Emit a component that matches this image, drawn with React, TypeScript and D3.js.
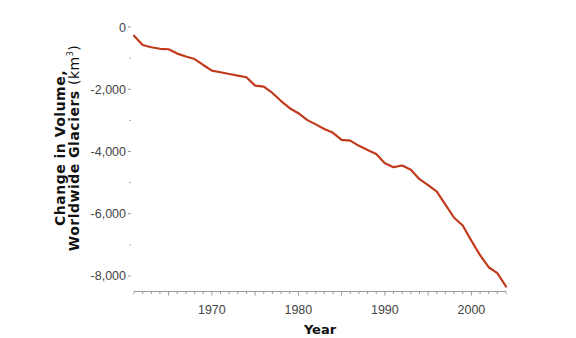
import React from 'react';
import * as d3 from 'd3';

// glacier volume change, km3
const years = [1961, 1962, 1963, 1964, 1965, 1966, 1967, 1968, 1969, 1970,
  1971, 1972, 1973, 1974, 1975, 1976, 1977, 1978, 1979, 1980,
  1981, 1982, 1983, 1984, 1985, 1986, 1987, 1988, 1989, 1990,
  1991, 1992, 1993, 1994, 1995, 1996, 1997, 1998, 1999, 2000,
  2001, 2002, 2003, 2004];
const volume = [-280, -580, -650, -700, -715, -855, -950, -1030, -1220, -1400,
  -1455, -1510, -1560, -1615, -1885, -1915, -2120, -2380, -2610, -2770,
  -2985, -3130, -3280, -3400, -3630, -3650, -3820, -3950, -4080, -4380,
  -4505, -4450, -4590, -4890, -5080, -5290, -5710, -6130, -6380, -6870,
  -7330, -7720, -7910, -8340];
const yTicks = [0, -2000, -4000, -6000, -8000];
const yMinorTicks = [-1000, -3000, -5000, -7000];
const xTicks = [1970, 1980, 1990, 2000];

const width = 576;
const height = 338;

const TimeLine = () => {
  const x = d3.scaleLinear().domain([1961, 2004]).range([134, 506]);
  const y = d3.scaleLinear().domain([0, -8500]).range([27, 291.5]);

  const data = years.map((yr, i) => ({ date: yr, value: volume[i] }));
  const line = d3.line<{ date: number; value: number }>()
    .x(d => x(d.date))
    .y(d => y(d.value));

  const fmt = d3.format(',');
  const allYears = d3.range(1961, 2005);
  const axisY = y.range()[1];

  return (
    <svg width={width} height={height} style={{ position: 'absolute', left: 0, top: 0, background: '#fff' }}>
      {/* x axis */}
      <line x1={x(1961)} x2={x(2004)} y1={axisY} y2={axisY} stroke="#9a9a9a" strokeWidth={1} />
      {allYears.map(yr => (
        <line key={yr} x1={x(yr)} x2={x(yr)} y1={axisY} y2={axisY + (yr % 5 === 0 ? 4 : 2.5)} stroke="#9a9a9a" strokeWidth={1} />
      ))}
      {xTicks.map(t => (
        <text key={t} x={x(t)} y={axisY + 22} textAnchor="middle" fontFamily="Liberation Sans" fontSize={12.5} fill="#444">{t}</text>
      ))}
      <text x={320} y={334} textAnchor="middle" fontFamily="DejaVu Sans" fontWeight="bold" fontSize={13} fill="#111">Year</text>

      {/* y axis */}
      {yTicks.map(t => (
        <g key={t}>
          <line x1={128} x2={131} y1={y(t)} y2={y(t)} stroke="#9a9a9a" />
          <text x={126} y={y(t) + 4.5} textAnchor="end" fontFamily="Liberation Sans" fontSize={12.5} fill="#444">{fmt(t).replace('−', '-')}</text>
        </g>
      ))}
      {yMinorTicks.map(t => (
        <line key={t} x1={129} x2={131} y1={y(t)} y2={y(t)} stroke="#b0b0b0" />
      ))}
      <g transform="translate(0,148) rotate(-90)" fontFamily="DejaVu Sans" fontWeight="bold" fontSize={14} letterSpacing={0.5} fill="#111" textAnchor="middle">
        <text x={0} y={65}>Change in Volume,</text>
        <text x={0} y={79}>Worldwide Glaciers <tspan fontWeight="normal">(km<tspan dy={-6} fontSize={8}>3</tspan><tspan dy={6}>)</tspan></tspan></text>
      </g>

      <path d={line(data) || ''} fill="none" stroke="#c13a1c" strokeWidth={2.2} strokeLinejoin="round" strokeLinecap="round" />
    </svg>
  );
};

export default function App() {
  return <TimeLine />;
}
